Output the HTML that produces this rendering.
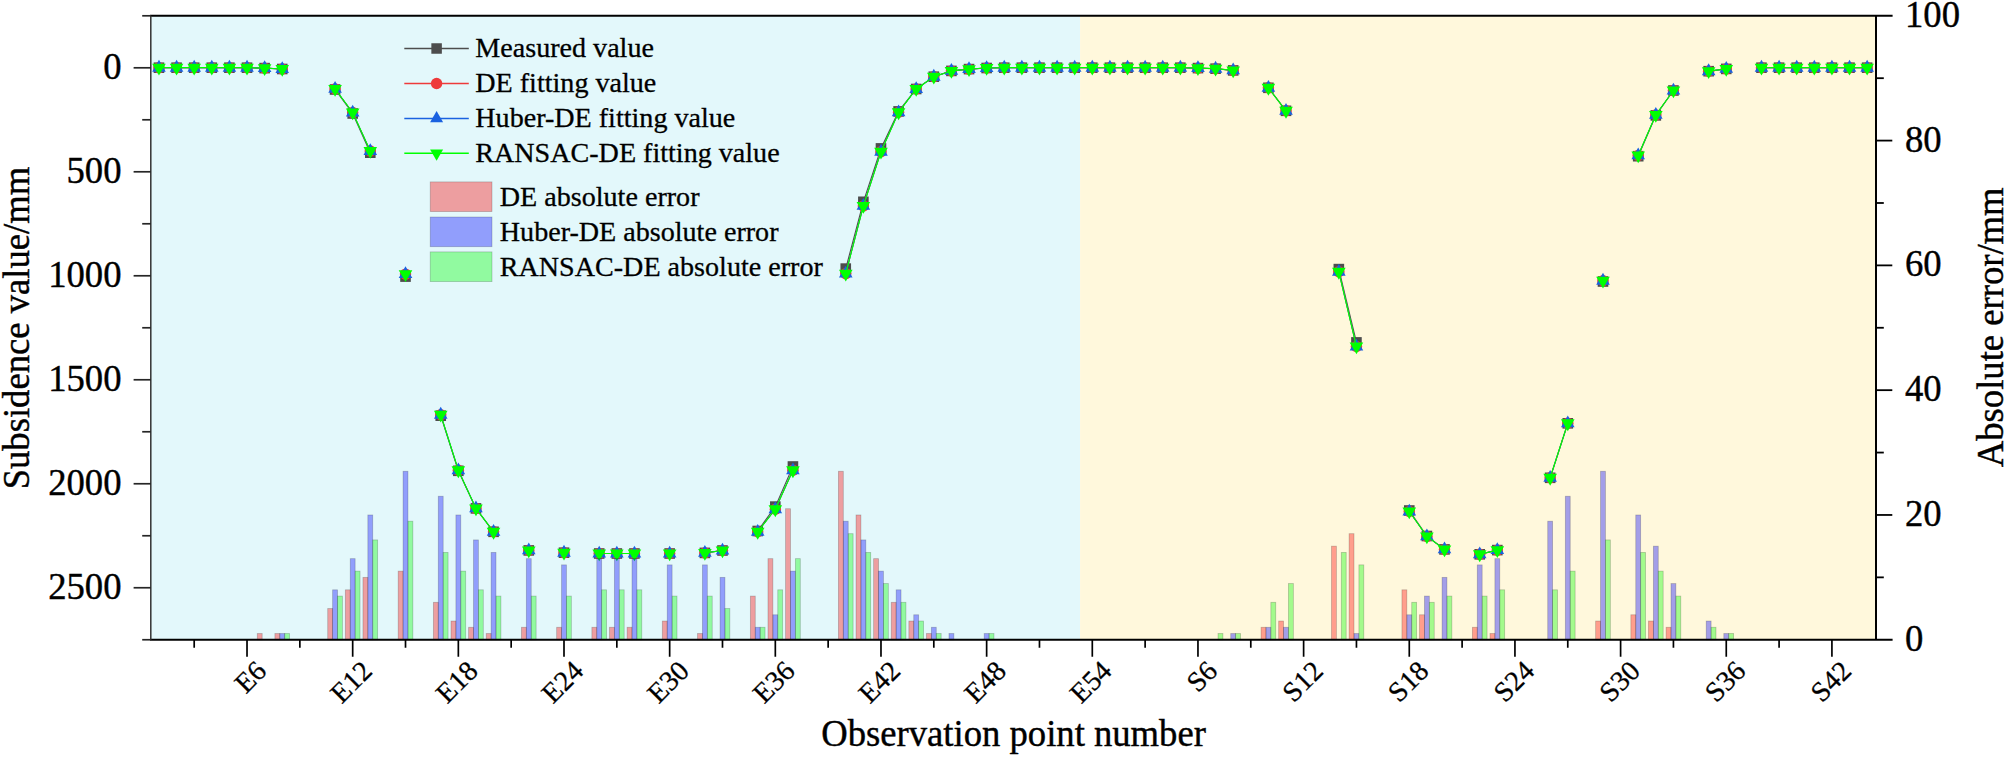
<!DOCTYPE html>
<html><head><meta charset="utf-8"><title>Subsidence fitting chart</title>
<style>html,body{margin:0;padding:0;background:#fff}svg{display:block}</style></head>
<body>
<svg width="2006" height="758" viewBox="0 0 2006 758" font-family="Liberation Serif, Times New Roman, serif">
<rect width="2006" height="758" fill="#fff"/>
<rect x="150.8" y="15.8" width="929.3" height="624.0" fill="#e3f8fb"/>
<rect x="1080.1" y="15.8" width="795.9" height="624.0" fill="#fff8dc"/>
<polyline points="158.97,67.70 176.58,67.70 194.19,67.70 211.80,67.70 229.41,67.70 247.02,67.70 264.63,68.10 282.24,69.00" fill="none" stroke="#4d4d4d" stroke-width="1.1"/>
<polyline points="335.07,89.50 352.68,113.50 370.29,152.70" fill="none" stroke="#4d4d4d" stroke-width="1.1"/>
<polyline points="440.73,415.70 458.34,470.80 475.95,508.40 493.56,531.80" fill="none" stroke="#4d4d4d" stroke-width="1.1"/>
<polyline points="599.22,553.50 616.83,553.50 634.44,553.50" fill="none" stroke="#4d4d4d" stroke-width="1.1"/>
<polyline points="704.88,552.90 722.49,550.50" fill="none" stroke="#4d4d4d" stroke-width="1.1"/>
<polyline points="757.71,531.00 775.32,506.60 792.93,466.50" fill="none" stroke="#4d4d4d" stroke-width="1.1"/>
<polyline points="845.76,268.60 863.37,201.80 880.98,148.40 898.59,111.40 916.20,89.00 933.81,76.70 951.42,70.90 969.03,69.10 986.64,68.00 1004.25,67.70 1021.86,67.70 1039.47,67.70 1057.08,67.70 1074.69,67.70 1092.30,67.70 1109.91,67.70 1127.52,67.70 1145.13,67.70 1162.74,67.70 1180.35,67.70 1197.96,68.10 1215.57,68.70 1233.18,70.40" fill="none" stroke="#4d4d4d" stroke-width="1.1"/>
<polyline points="1268.40,87.80 1286.01,110.80" fill="none" stroke="#4d4d4d" stroke-width="1.1"/>
<polyline points="1338.84,269.10 1356.45,342.40" fill="none" stroke="#4d4d4d" stroke-width="1.1"/>
<polyline points="1409.28,510.50 1426.89,536.00 1444.50,549.40" fill="none" stroke="#4d4d4d" stroke-width="1.1"/>
<polyline points="1479.72,554.30 1497.33,550.10" fill="none" stroke="#4d4d4d" stroke-width="1.1"/>
<polyline points="1550.16,477.80 1567.77,423.30" fill="none" stroke="#4d4d4d" stroke-width="1.1"/>
<polyline points="1638.21,156.20 1655.82,115.40 1673.43,90.50" fill="none" stroke="#4d4d4d" stroke-width="1.1"/>
<polyline points="1708.65,71.20 1726.26,68.90" fill="none" stroke="#4d4d4d" stroke-width="1.1"/>
<polyline points="1761.48,67.70 1779.09,67.70 1796.70,67.70 1814.31,67.70 1831.92,67.70 1849.53,67.70 1867.14,67.70" fill="none" stroke="#4d4d4d" stroke-width="1.1"/>
<rect x="153.67" y="62.40" width="10.6" height="10.6" fill="#4d4d4d"/>
<rect x="171.28" y="62.40" width="10.6" height="10.6" fill="#4d4d4d"/>
<rect x="188.89" y="62.40" width="10.6" height="10.6" fill="#4d4d4d"/>
<rect x="206.50" y="62.40" width="10.6" height="10.6" fill="#4d4d4d"/>
<rect x="224.11" y="62.40" width="10.6" height="10.6" fill="#4d4d4d"/>
<rect x="241.72" y="62.40" width="10.6" height="10.6" fill="#4d4d4d"/>
<rect x="259.33" y="62.80" width="10.6" height="10.6" fill="#4d4d4d"/>
<rect x="276.94" y="63.70" width="10.6" height="10.6" fill="#4d4d4d"/>
<rect x="329.77" y="84.20" width="10.6" height="10.6" fill="#4d4d4d"/>
<rect x="347.38" y="108.20" width="10.6" height="10.6" fill="#4d4d4d"/>
<rect x="364.99" y="147.40" width="10.6" height="10.6" fill="#4d4d4d"/>
<rect x="400.21" y="271.30" width="10.6" height="10.6" fill="#4d4d4d"/>
<rect x="435.43" y="410.40" width="10.6" height="10.6" fill="#4d4d4d"/>
<rect x="453.04" y="465.50" width="10.6" height="10.6" fill="#4d4d4d"/>
<rect x="470.65" y="503.10" width="10.6" height="10.6" fill="#4d4d4d"/>
<rect x="488.26" y="526.50" width="10.6" height="10.6" fill="#4d4d4d"/>
<rect x="523.48" y="545.10" width="10.6" height="10.6" fill="#4d4d4d"/>
<rect x="558.70" y="547.40" width="10.6" height="10.6" fill="#4d4d4d"/>
<rect x="593.92" y="548.20" width="10.6" height="10.6" fill="#4d4d4d"/>
<rect x="611.53" y="548.20" width="10.6" height="10.6" fill="#4d4d4d"/>
<rect x="629.14" y="548.20" width="10.6" height="10.6" fill="#4d4d4d"/>
<rect x="664.36" y="548.20" width="10.6" height="10.6" fill="#4d4d4d"/>
<rect x="699.58" y="547.60" width="10.6" height="10.6" fill="#4d4d4d"/>
<rect x="717.19" y="545.20" width="10.6" height="10.6" fill="#4d4d4d"/>
<rect x="752.41" y="525.70" width="10.6" height="10.6" fill="#4d4d4d"/>
<rect x="770.02" y="501.30" width="10.6" height="10.6" fill="#4d4d4d"/>
<rect x="787.63" y="461.20" width="10.6" height="10.6" fill="#4d4d4d"/>
<rect x="840.46" y="263.30" width="10.6" height="10.6" fill="#4d4d4d"/>
<rect x="858.07" y="196.50" width="10.6" height="10.6" fill="#4d4d4d"/>
<rect x="875.68" y="143.10" width="10.6" height="10.6" fill="#4d4d4d"/>
<rect x="893.29" y="106.10" width="10.6" height="10.6" fill="#4d4d4d"/>
<rect x="910.90" y="83.70" width="10.6" height="10.6" fill="#4d4d4d"/>
<rect x="928.51" y="71.40" width="10.6" height="10.6" fill="#4d4d4d"/>
<rect x="946.12" y="65.60" width="10.6" height="10.6" fill="#4d4d4d"/>
<rect x="963.73" y="63.80" width="10.6" height="10.6" fill="#4d4d4d"/>
<rect x="981.34" y="62.70" width="10.6" height="10.6" fill="#4d4d4d"/>
<rect x="998.95" y="62.40" width="10.6" height="10.6" fill="#4d4d4d"/>
<rect x="1016.56" y="62.40" width="10.6" height="10.6" fill="#4d4d4d"/>
<rect x="1034.17" y="62.40" width="10.6" height="10.6" fill="#4d4d4d"/>
<rect x="1051.78" y="62.40" width="10.6" height="10.6" fill="#4d4d4d"/>
<rect x="1069.39" y="62.40" width="10.6" height="10.6" fill="#4d4d4d"/>
<rect x="1087.00" y="62.40" width="10.6" height="10.6" fill="#4d4d4d"/>
<rect x="1104.61" y="62.40" width="10.6" height="10.6" fill="#4d4d4d"/>
<rect x="1122.22" y="62.40" width="10.6" height="10.6" fill="#4d4d4d"/>
<rect x="1139.83" y="62.40" width="10.6" height="10.6" fill="#4d4d4d"/>
<rect x="1157.44" y="62.40" width="10.6" height="10.6" fill="#4d4d4d"/>
<rect x="1175.05" y="62.40" width="10.6" height="10.6" fill="#4d4d4d"/>
<rect x="1192.66" y="62.80" width="10.6" height="10.6" fill="#4d4d4d"/>
<rect x="1210.27" y="63.40" width="10.6" height="10.6" fill="#4d4d4d"/>
<rect x="1227.88" y="65.10" width="10.6" height="10.6" fill="#4d4d4d"/>
<rect x="1263.10" y="82.50" width="10.6" height="10.6" fill="#4d4d4d"/>
<rect x="1280.71" y="105.50" width="10.6" height="10.6" fill="#4d4d4d"/>
<rect x="1333.54" y="263.80" width="10.6" height="10.6" fill="#4d4d4d"/>
<rect x="1351.15" y="337.10" width="10.6" height="10.6" fill="#4d4d4d"/>
<rect x="1403.98" y="505.20" width="10.6" height="10.6" fill="#4d4d4d"/>
<rect x="1421.59" y="530.70" width="10.6" height="10.6" fill="#4d4d4d"/>
<rect x="1439.20" y="544.10" width="10.6" height="10.6" fill="#4d4d4d"/>
<rect x="1474.42" y="549.00" width="10.6" height="10.6" fill="#4d4d4d"/>
<rect x="1492.03" y="544.80" width="10.6" height="10.6" fill="#4d4d4d"/>
<rect x="1544.86" y="472.50" width="10.6" height="10.6" fill="#4d4d4d"/>
<rect x="1562.47" y="418.00" width="10.6" height="10.6" fill="#4d4d4d"/>
<rect x="1597.69" y="276.20" width="10.6" height="10.6" fill="#4d4d4d"/>
<rect x="1632.91" y="150.90" width="10.6" height="10.6" fill="#4d4d4d"/>
<rect x="1650.52" y="110.10" width="10.6" height="10.6" fill="#4d4d4d"/>
<rect x="1668.13" y="85.20" width="10.6" height="10.6" fill="#4d4d4d"/>
<rect x="1703.35" y="65.90" width="10.6" height="10.6" fill="#4d4d4d"/>
<rect x="1720.96" y="63.60" width="10.6" height="10.6" fill="#4d4d4d"/>
<rect x="1756.18" y="62.40" width="10.6" height="10.6" fill="#4d4d4d"/>
<rect x="1773.79" y="62.40" width="10.6" height="10.6" fill="#4d4d4d"/>
<rect x="1791.40" y="62.40" width="10.6" height="10.6" fill="#4d4d4d"/>
<rect x="1809.01" y="62.40" width="10.6" height="10.6" fill="#4d4d4d"/>
<rect x="1826.62" y="62.40" width="10.6" height="10.6" fill="#4d4d4d"/>
<rect x="1844.23" y="62.40" width="10.6" height="10.6" fill="#4d4d4d"/>
<rect x="1861.84" y="62.40" width="10.6" height="10.6" fill="#4d4d4d"/>
<polyline points="158.97,67.70 176.58,67.70 194.19,67.70 211.80,67.70 229.41,67.70 247.02,67.70 264.63,68.10 282.24,69.00" fill="none" stroke="#ee3a3a" stroke-width="0.9"/>
<polyline points="335.07,88.90 352.68,112.50 370.29,151.00" fill="none" stroke="#ee3a3a" stroke-width="0.9"/>
<polyline points="440.73,414.70 458.34,470.30 475.95,508.40 493.56,531.80" fill="none" stroke="#ee3a3a" stroke-width="0.9"/>
<polyline points="599.22,553.50 616.83,553.50 634.44,553.50" fill="none" stroke="#ee3a3a" stroke-width="0.9"/>
<polyline points="704.88,552.90 722.49,550.50" fill="none" stroke="#ee3a3a" stroke-width="0.9"/>
<polyline points="757.71,531.80 775.32,509.30 792.93,470.30" fill="none" stroke="#ee3a3a" stroke-width="0.9"/>
<polyline points="845.76,273.60 863.37,205.90 880.98,151.70 898.59,112.30 916.20,89.00 933.81,76.70 951.42,70.90 969.03,69.10 986.64,68.00 1004.25,67.70 1021.86,67.70 1039.47,67.70 1057.08,67.70 1074.69,67.70 1092.30,67.70 1109.91,67.70 1127.52,67.70 1145.13,67.70 1162.74,67.70 1180.35,67.70 1197.96,68.10 1215.57,68.70 1233.18,70.40" fill="none" stroke="#ee3a3a" stroke-width="0.9"/>
<polyline points="1268.40,87.80 1286.01,110.80" fill="none" stroke="#ee3a3a" stroke-width="0.9"/>
<polyline points="1338.84,271.80 1356.45,346.50" fill="none" stroke="#ee3a3a" stroke-width="0.9"/>
<polyline points="1409.28,511.50 1426.89,536.40 1444.50,549.40" fill="none" stroke="#ee3a3a" stroke-width="0.9"/>
<polyline points="1479.72,554.30 1497.33,550.10" fill="none" stroke="#ee3a3a" stroke-width="0.9"/>
<polyline points="1550.16,477.80 1567.77,423.30" fill="none" stroke="#ee3a3a" stroke-width="0.9"/>
<polyline points="1638.21,155.40 1655.82,114.90 1673.43,90.50" fill="none" stroke="#ee3a3a" stroke-width="0.9"/>
<polyline points="1708.65,71.20 1726.26,68.90" fill="none" stroke="#ee3a3a" stroke-width="0.9"/>
<polyline points="1761.48,67.70 1779.09,67.70 1796.70,67.70 1814.31,67.70 1831.92,67.70 1849.53,67.70 1867.14,67.70" fill="none" stroke="#ee3a3a" stroke-width="0.9"/>
<circle cx="158.97" cy="67.70" r="5.7" fill="#ee3a3a"/>
<circle cx="176.58" cy="67.70" r="5.7" fill="#ee3a3a"/>
<circle cx="194.19" cy="67.70" r="5.7" fill="#ee3a3a"/>
<circle cx="211.80" cy="67.70" r="5.7" fill="#ee3a3a"/>
<circle cx="229.41" cy="67.70" r="5.7" fill="#ee3a3a"/>
<circle cx="247.02" cy="67.70" r="5.7" fill="#ee3a3a"/>
<circle cx="264.63" cy="68.10" r="5.7" fill="#ee3a3a"/>
<circle cx="282.24" cy="69.00" r="5.7" fill="#ee3a3a"/>
<circle cx="335.07" cy="88.90" r="5.7" fill="#ee3a3a"/>
<circle cx="352.68" cy="112.50" r="5.7" fill="#ee3a3a"/>
<circle cx="370.29" cy="151.00" r="5.7" fill="#ee3a3a"/>
<circle cx="405.51" cy="274.10" r="5.7" fill="#ee3a3a"/>
<circle cx="440.73" cy="414.70" r="5.7" fill="#ee3a3a"/>
<circle cx="458.34" cy="470.30" r="5.7" fill="#ee3a3a"/>
<circle cx="475.95" cy="508.40" r="5.7" fill="#ee3a3a"/>
<circle cx="493.56" cy="531.80" r="5.7" fill="#ee3a3a"/>
<circle cx="528.78" cy="550.40" r="5.7" fill="#ee3a3a"/>
<circle cx="564.00" cy="552.70" r="5.7" fill="#ee3a3a"/>
<circle cx="599.22" cy="553.50" r="5.7" fill="#ee3a3a"/>
<circle cx="616.83" cy="553.50" r="5.7" fill="#ee3a3a"/>
<circle cx="634.44" cy="553.50" r="5.7" fill="#ee3a3a"/>
<circle cx="669.66" cy="553.50" r="5.7" fill="#ee3a3a"/>
<circle cx="704.88" cy="552.90" r="5.7" fill="#ee3a3a"/>
<circle cx="722.49" cy="550.50" r="5.7" fill="#ee3a3a"/>
<circle cx="757.71" cy="531.80" r="5.7" fill="#ee3a3a"/>
<circle cx="775.32" cy="509.30" r="5.7" fill="#ee3a3a"/>
<circle cx="792.93" cy="470.30" r="5.7" fill="#ee3a3a"/>
<circle cx="845.76" cy="273.60" r="5.7" fill="#ee3a3a"/>
<circle cx="863.37" cy="205.90" r="5.7" fill="#ee3a3a"/>
<circle cx="880.98" cy="151.70" r="5.7" fill="#ee3a3a"/>
<circle cx="898.59" cy="112.30" r="5.7" fill="#ee3a3a"/>
<circle cx="916.20" cy="89.00" r="5.7" fill="#ee3a3a"/>
<circle cx="933.81" cy="76.70" r="5.7" fill="#ee3a3a"/>
<circle cx="951.42" cy="70.90" r="5.7" fill="#ee3a3a"/>
<circle cx="969.03" cy="69.10" r="5.7" fill="#ee3a3a"/>
<circle cx="986.64" cy="68.00" r="5.7" fill="#ee3a3a"/>
<circle cx="1004.25" cy="67.70" r="5.7" fill="#ee3a3a"/>
<circle cx="1021.86" cy="67.70" r="5.7" fill="#ee3a3a"/>
<circle cx="1039.47" cy="67.70" r="5.7" fill="#ee3a3a"/>
<circle cx="1057.08" cy="67.70" r="5.7" fill="#ee3a3a"/>
<circle cx="1074.69" cy="67.70" r="5.7" fill="#ee3a3a"/>
<circle cx="1092.30" cy="67.70" r="5.7" fill="#ee3a3a"/>
<circle cx="1109.91" cy="67.70" r="5.7" fill="#ee3a3a"/>
<circle cx="1127.52" cy="67.70" r="5.7" fill="#ee3a3a"/>
<circle cx="1145.13" cy="67.70" r="5.7" fill="#ee3a3a"/>
<circle cx="1162.74" cy="67.70" r="5.7" fill="#ee3a3a"/>
<circle cx="1180.35" cy="67.70" r="5.7" fill="#ee3a3a"/>
<circle cx="1197.96" cy="68.10" r="5.7" fill="#ee3a3a"/>
<circle cx="1215.57" cy="68.70" r="5.7" fill="#ee3a3a"/>
<circle cx="1233.18" cy="70.40" r="5.7" fill="#ee3a3a"/>
<circle cx="1268.40" cy="87.80" r="5.7" fill="#ee3a3a"/>
<circle cx="1286.01" cy="110.80" r="5.7" fill="#ee3a3a"/>
<circle cx="1338.84" cy="271.80" r="5.7" fill="#ee3a3a"/>
<circle cx="1356.45" cy="346.50" r="5.7" fill="#ee3a3a"/>
<circle cx="1409.28" cy="511.50" r="5.7" fill="#ee3a3a"/>
<circle cx="1426.89" cy="536.40" r="5.7" fill="#ee3a3a"/>
<circle cx="1444.50" cy="549.40" r="5.7" fill="#ee3a3a"/>
<circle cx="1479.72" cy="554.30" r="5.7" fill="#ee3a3a"/>
<circle cx="1497.33" cy="550.10" r="5.7" fill="#ee3a3a"/>
<circle cx="1550.16" cy="477.80" r="5.7" fill="#ee3a3a"/>
<circle cx="1567.77" cy="423.30" r="5.7" fill="#ee3a3a"/>
<circle cx="1602.99" cy="280.70" r="5.7" fill="#ee3a3a"/>
<circle cx="1638.21" cy="155.40" r="5.7" fill="#ee3a3a"/>
<circle cx="1655.82" cy="114.90" r="5.7" fill="#ee3a3a"/>
<circle cx="1673.43" cy="90.50" r="5.7" fill="#ee3a3a"/>
<circle cx="1708.65" cy="71.20" r="5.7" fill="#ee3a3a"/>
<circle cx="1726.26" cy="68.90" r="5.7" fill="#ee3a3a"/>
<circle cx="1761.48" cy="67.70" r="5.7" fill="#ee3a3a"/>
<circle cx="1779.09" cy="67.70" r="5.7" fill="#ee3a3a"/>
<circle cx="1796.70" cy="67.70" r="5.7" fill="#ee3a3a"/>
<circle cx="1814.31" cy="67.70" r="5.7" fill="#ee3a3a"/>
<circle cx="1831.92" cy="67.70" r="5.7" fill="#ee3a3a"/>
<circle cx="1849.53" cy="67.70" r="5.7" fill="#ee3a3a"/>
<circle cx="1867.14" cy="67.70" r="5.7" fill="#ee3a3a"/>
<polyline points="158.97,67.70 176.58,67.70 194.19,67.70 211.80,67.70 229.41,67.70 247.02,67.70 264.63,68.10 282.24,69.00" fill="none" stroke="#1a62e0" stroke-width="0.9"/>
<polyline points="335.07,88.90 352.68,112.50 370.29,151.00" fill="none" stroke="#1a62e0" stroke-width="0.9"/>
<polyline points="440.73,414.70 458.34,470.30 475.95,508.40 493.56,531.80" fill="none" stroke="#1a62e0" stroke-width="0.9"/>
<polyline points="599.22,553.50 616.83,553.50 634.44,553.50" fill="none" stroke="#1a62e0" stroke-width="0.9"/>
<polyline points="704.88,552.90 722.49,550.50" fill="none" stroke="#1a62e0" stroke-width="0.9"/>
<polyline points="757.71,531.80 775.32,509.30 792.93,470.30" fill="none" stroke="#1a62e0" stroke-width="0.9"/>
<polyline points="845.76,273.60 863.37,205.90 880.98,151.70 898.59,112.30 916.20,89.00 933.81,76.70 951.42,70.90 969.03,69.10 986.64,68.00 1004.25,67.70 1021.86,67.70 1039.47,67.70 1057.08,67.70 1074.69,67.70 1092.30,67.70 1109.91,67.70 1127.52,67.70 1145.13,67.70 1162.74,67.70 1180.35,67.70 1197.96,68.10 1215.57,68.70 1233.18,70.40" fill="none" stroke="#1a62e0" stroke-width="0.9"/>
<polyline points="1268.40,87.80 1286.01,110.80" fill="none" stroke="#1a62e0" stroke-width="0.9"/>
<polyline points="1338.84,271.80 1356.45,346.50" fill="none" stroke="#1a62e0" stroke-width="0.9"/>
<polyline points="1409.28,511.50 1426.89,536.40 1444.50,549.40" fill="none" stroke="#1a62e0" stroke-width="0.9"/>
<polyline points="1479.72,554.30 1497.33,550.10" fill="none" stroke="#1a62e0" stroke-width="0.9"/>
<polyline points="1550.16,477.80 1567.77,423.30" fill="none" stroke="#1a62e0" stroke-width="0.9"/>
<polyline points="1638.21,155.40 1655.82,114.90 1673.43,90.50" fill="none" stroke="#1a62e0" stroke-width="0.9"/>
<polyline points="1708.65,71.20 1726.26,68.90" fill="none" stroke="#1a62e0" stroke-width="0.9"/>
<polyline points="1761.48,67.70 1779.09,67.70 1796.70,67.70 1814.31,67.70 1831.92,67.70 1849.53,67.70 1867.14,67.70" fill="none" stroke="#1a62e0" stroke-width="0.9"/>
<path d="M152.17 71.63L165.77 71.63L158.97 59.83Z" fill="#1a62e0"/>
<path d="M169.78 71.63L183.38 71.63L176.58 59.83Z" fill="#1a62e0"/>
<path d="M187.39 71.63L200.99 71.63L194.19 59.83Z" fill="#1a62e0"/>
<path d="M205.00 71.63L218.60 71.63L211.80 59.83Z" fill="#1a62e0"/>
<path d="M222.61 71.63L236.21 71.63L229.41 59.83Z" fill="#1a62e0"/>
<path d="M240.22 71.63L253.82 71.63L247.02 59.83Z" fill="#1a62e0"/>
<path d="M257.83 72.03L271.43 72.03L264.63 60.23Z" fill="#1a62e0"/>
<path d="M275.44 72.93L289.04 72.93L282.24 61.13Z" fill="#1a62e0"/>
<path d="M328.27 92.83L341.87 92.83L335.07 81.03Z" fill="#1a62e0"/>
<path d="M345.88 116.43L359.48 116.43L352.68 104.63Z" fill="#1a62e0"/>
<path d="M363.49 154.93L377.09 154.93L370.29 143.13Z" fill="#1a62e0"/>
<path d="M398.71 278.03L412.31 278.03L405.51 266.23Z" fill="#1a62e0"/>
<path d="M433.93 418.63L447.53 418.63L440.73 406.83Z" fill="#1a62e0"/>
<path d="M451.54 474.23L465.14 474.23L458.34 462.43Z" fill="#1a62e0"/>
<path d="M469.15 512.33L482.75 512.33L475.95 500.53Z" fill="#1a62e0"/>
<path d="M486.76 535.73L500.36 535.73L493.56 523.93Z" fill="#1a62e0"/>
<path d="M521.98 554.33L535.58 554.33L528.78 542.53Z" fill="#1a62e0"/>
<path d="M557.20 556.63L570.80 556.63L564.00 544.83Z" fill="#1a62e0"/>
<path d="M592.42 557.43L606.02 557.43L599.22 545.63Z" fill="#1a62e0"/>
<path d="M610.03 557.43L623.63 557.43L616.83 545.63Z" fill="#1a62e0"/>
<path d="M627.64 557.43L641.24 557.43L634.44 545.63Z" fill="#1a62e0"/>
<path d="M662.86 557.43L676.46 557.43L669.66 545.63Z" fill="#1a62e0"/>
<path d="M698.08 556.83L711.68 556.83L704.88 545.03Z" fill="#1a62e0"/>
<path d="M715.69 554.43L729.29 554.43L722.49 542.63Z" fill="#1a62e0"/>
<path d="M750.91 535.73L764.51 535.73L757.71 523.93Z" fill="#1a62e0"/>
<path d="M768.52 513.23L782.12 513.23L775.32 501.43Z" fill="#1a62e0"/>
<path d="M786.13 474.23L799.73 474.23L792.93 462.43Z" fill="#1a62e0"/>
<path d="M838.96 277.53L852.56 277.53L845.76 265.73Z" fill="#1a62e0"/>
<path d="M856.57 209.83L870.17 209.83L863.37 198.03Z" fill="#1a62e0"/>
<path d="M874.18 155.63L887.78 155.63L880.98 143.83Z" fill="#1a62e0"/>
<path d="M891.79 116.23L905.39 116.23L898.59 104.43Z" fill="#1a62e0"/>
<path d="M909.40 92.93L923.00 92.93L916.20 81.13Z" fill="#1a62e0"/>
<path d="M927.01 80.63L940.61 80.63L933.81 68.83Z" fill="#1a62e0"/>
<path d="M944.62 74.83L958.22 74.83L951.42 63.03Z" fill="#1a62e0"/>
<path d="M962.23 73.03L975.83 73.03L969.03 61.23Z" fill="#1a62e0"/>
<path d="M979.84 71.93L993.44 71.93L986.64 60.13Z" fill="#1a62e0"/>
<path d="M997.45 71.63L1011.05 71.63L1004.25 59.83Z" fill="#1a62e0"/>
<path d="M1015.06 71.63L1028.66 71.63L1021.86 59.83Z" fill="#1a62e0"/>
<path d="M1032.67 71.63L1046.27 71.63L1039.47 59.83Z" fill="#1a62e0"/>
<path d="M1050.28 71.63L1063.88 71.63L1057.08 59.83Z" fill="#1a62e0"/>
<path d="M1067.89 71.63L1081.49 71.63L1074.69 59.83Z" fill="#1a62e0"/>
<path d="M1085.50 71.63L1099.10 71.63L1092.30 59.83Z" fill="#1a62e0"/>
<path d="M1103.11 71.63L1116.71 71.63L1109.91 59.83Z" fill="#1a62e0"/>
<path d="M1120.72 71.63L1134.32 71.63L1127.52 59.83Z" fill="#1a62e0"/>
<path d="M1138.33 71.63L1151.93 71.63L1145.13 59.83Z" fill="#1a62e0"/>
<path d="M1155.94 71.63L1169.54 71.63L1162.74 59.83Z" fill="#1a62e0"/>
<path d="M1173.55 71.63L1187.15 71.63L1180.35 59.83Z" fill="#1a62e0"/>
<path d="M1191.16 72.03L1204.76 72.03L1197.96 60.23Z" fill="#1a62e0"/>
<path d="M1208.77 72.63L1222.37 72.63L1215.57 60.83Z" fill="#1a62e0"/>
<path d="M1226.38 74.33L1239.98 74.33L1233.18 62.53Z" fill="#1a62e0"/>
<path d="M1261.60 91.73L1275.20 91.73L1268.40 79.93Z" fill="#1a62e0"/>
<path d="M1279.21 114.73L1292.81 114.73L1286.01 102.93Z" fill="#1a62e0"/>
<path d="M1332.04 275.73L1345.64 275.73L1338.84 263.93Z" fill="#1a62e0"/>
<path d="M1349.65 350.43L1363.25 350.43L1356.45 338.63Z" fill="#1a62e0"/>
<path d="M1402.48 515.43L1416.08 515.43L1409.28 503.63Z" fill="#1a62e0"/>
<path d="M1420.09 540.33L1433.69 540.33L1426.89 528.53Z" fill="#1a62e0"/>
<path d="M1437.70 553.33L1451.30 553.33L1444.50 541.53Z" fill="#1a62e0"/>
<path d="M1472.92 558.23L1486.52 558.23L1479.72 546.43Z" fill="#1a62e0"/>
<path d="M1490.53 554.03L1504.13 554.03L1497.33 542.23Z" fill="#1a62e0"/>
<path d="M1543.36 481.73L1556.96 481.73L1550.16 469.93Z" fill="#1a62e0"/>
<path d="M1560.97 427.23L1574.57 427.23L1567.77 415.43Z" fill="#1a62e0"/>
<path d="M1596.19 284.63L1609.79 284.63L1602.99 272.83Z" fill="#1a62e0"/>
<path d="M1631.41 159.33L1645.01 159.33L1638.21 147.53Z" fill="#1a62e0"/>
<path d="M1649.02 118.83L1662.62 118.83L1655.82 107.03Z" fill="#1a62e0"/>
<path d="M1666.63 94.43L1680.23 94.43L1673.43 82.63Z" fill="#1a62e0"/>
<path d="M1701.85 75.13L1715.45 75.13L1708.65 63.33Z" fill="#1a62e0"/>
<path d="M1719.46 72.83L1733.06 72.83L1726.26 61.03Z" fill="#1a62e0"/>
<path d="M1754.68 71.63L1768.28 71.63L1761.48 59.83Z" fill="#1a62e0"/>
<path d="M1772.29 71.63L1785.89 71.63L1779.09 59.83Z" fill="#1a62e0"/>
<path d="M1789.90 71.63L1803.50 71.63L1796.70 59.83Z" fill="#1a62e0"/>
<path d="M1807.51 71.63L1821.11 71.63L1814.31 59.83Z" fill="#1a62e0"/>
<path d="M1825.12 71.63L1838.72 71.63L1831.92 59.83Z" fill="#1a62e0"/>
<path d="M1842.73 71.63L1856.33 71.63L1849.53 59.83Z" fill="#1a62e0"/>
<path d="M1860.34 71.63L1873.94 71.63L1867.14 59.83Z" fill="#1a62e0"/>
<polyline points="158.97,67.70 176.58,67.70 194.19,67.70 211.80,67.70 229.41,67.70 247.02,67.70 264.63,68.10 282.24,69.00" fill="none" stroke="#00ff00" stroke-width="1.2"/>
<polyline points="335.07,88.90 352.68,112.50 370.29,151.00" fill="none" stroke="#00ff00" stroke-width="1.2"/>
<polyline points="440.73,414.70 458.34,470.30 475.95,508.40 493.56,531.80" fill="none" stroke="#00ff00" stroke-width="1.2"/>
<polyline points="599.22,553.50 616.83,553.50 634.44,553.50" fill="none" stroke="#00ff00" stroke-width="1.2"/>
<polyline points="704.88,552.90 722.49,550.50" fill="none" stroke="#00ff00" stroke-width="1.2"/>
<polyline points="757.71,531.80 775.32,509.30 792.93,470.30" fill="none" stroke="#00ff00" stroke-width="1.2"/>
<polyline points="845.76,273.60 863.37,205.90 880.98,151.70 898.59,112.30 916.20,89.00 933.81,76.70 951.42,70.90 969.03,69.10 986.64,68.00 1004.25,67.70 1021.86,67.70 1039.47,67.70 1057.08,67.70 1074.69,67.70 1092.30,67.70 1109.91,67.70 1127.52,67.70 1145.13,67.70 1162.74,67.70 1180.35,67.70 1197.96,68.10 1215.57,68.70 1233.18,70.40" fill="none" stroke="#00ff00" stroke-width="1.2"/>
<polyline points="1268.40,87.80 1286.01,110.80" fill="none" stroke="#00ff00" stroke-width="1.2"/>
<polyline points="1338.84,271.80 1356.45,346.50" fill="none" stroke="#00ff00" stroke-width="1.2"/>
<polyline points="1409.28,511.50 1426.89,536.40 1444.50,549.40" fill="none" stroke="#00ff00" stroke-width="1.2"/>
<polyline points="1479.72,554.30 1497.33,550.10" fill="none" stroke="#00ff00" stroke-width="1.2"/>
<polyline points="1550.16,477.80 1567.77,423.30" fill="none" stroke="#00ff00" stroke-width="1.2"/>
<polyline points="1638.21,155.40 1655.82,114.90 1673.43,90.50" fill="none" stroke="#00ff00" stroke-width="1.2"/>
<polyline points="1708.65,71.20 1726.26,68.90" fill="none" stroke="#00ff00" stroke-width="1.2"/>
<polyline points="1761.48,67.70 1779.09,67.70 1796.70,67.70 1814.31,67.70 1831.92,67.70 1849.53,67.70 1867.14,67.70" fill="none" stroke="#00ff00" stroke-width="1.2"/>
<path d="M152.17 63.77L165.77 63.77L158.97 75.57Z" fill="#00ff00"/>
<path d="M169.78 63.77L183.38 63.77L176.58 75.57Z" fill="#00ff00"/>
<path d="M187.39 63.77L200.99 63.77L194.19 75.57Z" fill="#00ff00"/>
<path d="M205.00 63.77L218.60 63.77L211.80 75.57Z" fill="#00ff00"/>
<path d="M222.61 63.77L236.21 63.77L229.41 75.57Z" fill="#00ff00"/>
<path d="M240.22 63.77L253.82 63.77L247.02 75.57Z" fill="#00ff00"/>
<path d="M257.83 64.17L271.43 64.17L264.63 75.97Z" fill="#00ff00"/>
<path d="M275.44 65.07L289.04 65.07L282.24 76.87Z" fill="#00ff00"/>
<path d="M328.27 84.97L341.87 84.97L335.07 96.77Z" fill="#00ff00"/>
<path d="M345.88 108.57L359.48 108.57L352.68 120.37Z" fill="#00ff00"/>
<path d="M363.49 147.07L377.09 147.07L370.29 158.87Z" fill="#00ff00"/>
<path d="M398.71 270.17L412.31 270.17L405.51 281.97Z" fill="#00ff00"/>
<path d="M433.93 410.77L447.53 410.77L440.73 422.57Z" fill="#00ff00"/>
<path d="M451.54 466.37L465.14 466.37L458.34 478.17Z" fill="#00ff00"/>
<path d="M469.15 504.47L482.75 504.47L475.95 516.27Z" fill="#00ff00"/>
<path d="M486.76 527.87L500.36 527.87L493.56 539.67Z" fill="#00ff00"/>
<path d="M521.98 546.47L535.58 546.47L528.78 558.27Z" fill="#00ff00"/>
<path d="M557.20 548.77L570.80 548.77L564.00 560.57Z" fill="#00ff00"/>
<path d="M592.42 549.57L606.02 549.57L599.22 561.37Z" fill="#00ff00"/>
<path d="M610.03 549.57L623.63 549.57L616.83 561.37Z" fill="#00ff00"/>
<path d="M627.64 549.57L641.24 549.57L634.44 561.37Z" fill="#00ff00"/>
<path d="M662.86 549.57L676.46 549.57L669.66 561.37Z" fill="#00ff00"/>
<path d="M698.08 548.97L711.68 548.97L704.88 560.77Z" fill="#00ff00"/>
<path d="M715.69 546.57L729.29 546.57L722.49 558.37Z" fill="#00ff00"/>
<path d="M750.91 527.87L764.51 527.87L757.71 539.67Z" fill="#00ff00"/>
<path d="M768.52 505.37L782.12 505.37L775.32 517.17Z" fill="#00ff00"/>
<path d="M786.13 466.37L799.73 466.37L792.93 478.17Z" fill="#00ff00"/>
<path d="M838.96 269.67L852.56 269.67L845.76 281.47Z" fill="#00ff00"/>
<path d="M856.57 201.97L870.17 201.97L863.37 213.77Z" fill="#00ff00"/>
<path d="M874.18 147.77L887.78 147.77L880.98 159.57Z" fill="#00ff00"/>
<path d="M891.79 108.37L905.39 108.37L898.59 120.17Z" fill="#00ff00"/>
<path d="M909.40 85.07L923.00 85.07L916.20 96.87Z" fill="#00ff00"/>
<path d="M927.01 72.77L940.61 72.77L933.81 84.57Z" fill="#00ff00"/>
<path d="M944.62 66.97L958.22 66.97L951.42 78.77Z" fill="#00ff00"/>
<path d="M962.23 65.17L975.83 65.17L969.03 76.97Z" fill="#00ff00"/>
<path d="M979.84 64.07L993.44 64.07L986.64 75.87Z" fill="#00ff00"/>
<path d="M997.45 63.77L1011.05 63.77L1004.25 75.57Z" fill="#00ff00"/>
<path d="M1015.06 63.77L1028.66 63.77L1021.86 75.57Z" fill="#00ff00"/>
<path d="M1032.67 63.77L1046.27 63.77L1039.47 75.57Z" fill="#00ff00"/>
<path d="M1050.28 63.77L1063.88 63.77L1057.08 75.57Z" fill="#00ff00"/>
<path d="M1067.89 63.77L1081.49 63.77L1074.69 75.57Z" fill="#00ff00"/>
<path d="M1085.50 63.77L1099.10 63.77L1092.30 75.57Z" fill="#00ff00"/>
<path d="M1103.11 63.77L1116.71 63.77L1109.91 75.57Z" fill="#00ff00"/>
<path d="M1120.72 63.77L1134.32 63.77L1127.52 75.57Z" fill="#00ff00"/>
<path d="M1138.33 63.77L1151.93 63.77L1145.13 75.57Z" fill="#00ff00"/>
<path d="M1155.94 63.77L1169.54 63.77L1162.74 75.57Z" fill="#00ff00"/>
<path d="M1173.55 63.77L1187.15 63.77L1180.35 75.57Z" fill="#00ff00"/>
<path d="M1191.16 64.17L1204.76 64.17L1197.96 75.97Z" fill="#00ff00"/>
<path d="M1208.77 64.77L1222.37 64.77L1215.57 76.57Z" fill="#00ff00"/>
<path d="M1226.38 66.47L1239.98 66.47L1233.18 78.27Z" fill="#00ff00"/>
<path d="M1261.60 83.87L1275.20 83.87L1268.40 95.67Z" fill="#00ff00"/>
<path d="M1279.21 106.87L1292.81 106.87L1286.01 118.67Z" fill="#00ff00"/>
<path d="M1332.04 267.87L1345.64 267.87L1338.84 279.67Z" fill="#00ff00"/>
<path d="M1349.65 342.57L1363.25 342.57L1356.45 354.37Z" fill="#00ff00"/>
<path d="M1402.48 507.57L1416.08 507.57L1409.28 519.37Z" fill="#00ff00"/>
<path d="M1420.09 532.47L1433.69 532.47L1426.89 544.27Z" fill="#00ff00"/>
<path d="M1437.70 545.47L1451.30 545.47L1444.50 557.27Z" fill="#00ff00"/>
<path d="M1472.92 550.37L1486.52 550.37L1479.72 562.17Z" fill="#00ff00"/>
<path d="M1490.53 546.17L1504.13 546.17L1497.33 557.97Z" fill="#00ff00"/>
<path d="M1543.36 473.87L1556.96 473.87L1550.16 485.67Z" fill="#00ff00"/>
<path d="M1560.97 419.37L1574.57 419.37L1567.77 431.17Z" fill="#00ff00"/>
<path d="M1596.19 276.77L1609.79 276.77L1602.99 288.57Z" fill="#00ff00"/>
<path d="M1631.41 151.47L1645.01 151.47L1638.21 163.27Z" fill="#00ff00"/>
<path d="M1649.02 110.97L1662.62 110.97L1655.82 122.77Z" fill="#00ff00"/>
<path d="M1666.63 86.57L1680.23 86.57L1673.43 98.37Z" fill="#00ff00"/>
<path d="M1701.85 67.27L1715.45 67.27L1708.65 79.07Z" fill="#00ff00"/>
<path d="M1719.46 64.97L1733.06 64.97L1726.26 76.77Z" fill="#00ff00"/>
<path d="M1754.68 63.77L1768.28 63.77L1761.48 75.57Z" fill="#00ff00"/>
<path d="M1772.29 63.77L1785.89 63.77L1779.09 75.57Z" fill="#00ff00"/>
<path d="M1789.90 63.77L1803.50 63.77L1796.70 75.57Z" fill="#00ff00"/>
<path d="M1807.51 63.77L1821.11 63.77L1814.31 75.57Z" fill="#00ff00"/>
<path d="M1825.12 63.77L1838.72 63.77L1831.92 75.57Z" fill="#00ff00"/>
<path d="M1842.73 63.77L1856.33 63.77L1849.53 75.57Z" fill="#00ff00"/>
<path d="M1860.34 63.77L1873.94 63.77L1867.14 75.57Z" fill="#00ff00"/>
<g stroke="#000" stroke-opacity="0.22" stroke-width="0.8">
<rect x="257.28" y="633.51" width="4.9" height="6.24" fill="rgb(255,0,0)" fill-opacity="0.36"/>
<rect x="274.89" y="633.51" width="4.9" height="6.24" fill="rgb(255,0,0)" fill-opacity="0.36"/>
<rect x="279.79" y="633.51" width="4.9" height="6.24" fill="rgb(0,0,255)" fill-opacity="0.36"/>
<rect x="284.69" y="633.51" width="4.9" height="6.24" fill="rgb(0,255,0)" fill-opacity="0.36"/>
<rect x="327.72" y="608.55" width="4.9" height="31.20" fill="rgb(255,0,0)" fill-opacity="0.36"/>
<rect x="332.62" y="589.83" width="4.9" height="49.92" fill="rgb(0,0,255)" fill-opacity="0.36"/>
<rect x="337.52" y="596.07" width="4.9" height="43.68" fill="rgb(0,255,0)" fill-opacity="0.36"/>
<rect x="345.33" y="589.83" width="4.9" height="49.92" fill="rgb(255,0,0)" fill-opacity="0.36"/>
<rect x="350.23" y="558.64" width="4.9" height="81.11" fill="rgb(0,0,255)" fill-opacity="0.36"/>
<rect x="355.13" y="571.12" width="4.9" height="68.63" fill="rgb(0,255,0)" fill-opacity="0.36"/>
<rect x="362.94" y="577.36" width="4.9" height="62.39" fill="rgb(255,0,0)" fill-opacity="0.36"/>
<rect x="367.84" y="514.96" width="4.9" height="124.79" fill="rgb(0,0,255)" fill-opacity="0.36"/>
<rect x="372.74" y="539.92" width="4.9" height="99.83" fill="rgb(0,255,0)" fill-opacity="0.36"/>
<rect x="398.16" y="571.12" width="4.9" height="68.63" fill="rgb(255,0,0)" fill-opacity="0.36"/>
<rect x="403.06" y="471.28" width="4.9" height="168.47" fill="rgb(0,0,255)" fill-opacity="0.36"/>
<rect x="407.96" y="521.20" width="4.9" height="118.55" fill="rgb(0,255,0)" fill-opacity="0.36"/>
<rect x="433.38" y="602.31" width="4.9" height="37.44" fill="rgb(255,0,0)" fill-opacity="0.36"/>
<rect x="438.28" y="496.24" width="4.9" height="143.51" fill="rgb(0,0,255)" fill-opacity="0.36"/>
<rect x="443.18" y="552.40" width="4.9" height="87.35" fill="rgb(0,255,0)" fill-opacity="0.36"/>
<rect x="450.99" y="621.03" width="4.9" height="18.72" fill="rgb(255,0,0)" fill-opacity="0.36"/>
<rect x="455.89" y="514.96" width="4.9" height="124.79" fill="rgb(0,0,255)" fill-opacity="0.36"/>
<rect x="460.79" y="571.12" width="4.9" height="68.63" fill="rgb(0,255,0)" fill-opacity="0.36"/>
<rect x="468.60" y="627.27" width="4.9" height="12.48" fill="rgb(255,0,0)" fill-opacity="0.36"/>
<rect x="473.50" y="539.92" width="4.9" height="99.83" fill="rgb(0,0,255)" fill-opacity="0.36"/>
<rect x="478.40" y="589.83" width="4.9" height="49.92" fill="rgb(0,255,0)" fill-opacity="0.36"/>
<rect x="486.21" y="633.51" width="4.9" height="6.24" fill="rgb(255,0,0)" fill-opacity="0.36"/>
<rect x="491.11" y="552.40" width="4.9" height="87.35" fill="rgb(0,0,255)" fill-opacity="0.36"/>
<rect x="496.01" y="596.07" width="4.9" height="43.68" fill="rgb(0,255,0)" fill-opacity="0.36"/>
<rect x="521.43" y="627.27" width="4.9" height="12.48" fill="rgb(255,0,0)" fill-opacity="0.36"/>
<rect x="526.33" y="558.64" width="4.9" height="81.11" fill="rgb(0,0,255)" fill-opacity="0.36"/>
<rect x="531.23" y="596.07" width="4.9" height="43.68" fill="rgb(0,255,0)" fill-opacity="0.36"/>
<rect x="556.65" y="627.27" width="4.9" height="12.48" fill="rgb(255,0,0)" fill-opacity="0.36"/>
<rect x="561.55" y="564.88" width="4.9" height="74.87" fill="rgb(0,0,255)" fill-opacity="0.36"/>
<rect x="566.45" y="596.07" width="4.9" height="43.68" fill="rgb(0,255,0)" fill-opacity="0.36"/>
<rect x="591.87" y="627.27" width="4.9" height="12.48" fill="rgb(255,0,0)" fill-opacity="0.36"/>
<rect x="596.77" y="558.64" width="4.9" height="81.11" fill="rgb(0,0,255)" fill-opacity="0.36"/>
<rect x="601.67" y="589.83" width="4.9" height="49.92" fill="rgb(0,255,0)" fill-opacity="0.36"/>
<rect x="609.48" y="627.27" width="4.9" height="12.48" fill="rgb(255,0,0)" fill-opacity="0.36"/>
<rect x="614.38" y="558.64" width="4.9" height="81.11" fill="rgb(0,0,255)" fill-opacity="0.36"/>
<rect x="619.28" y="589.83" width="4.9" height="49.92" fill="rgb(0,255,0)" fill-opacity="0.36"/>
<rect x="627.09" y="627.27" width="4.9" height="12.48" fill="rgb(255,0,0)" fill-opacity="0.36"/>
<rect x="631.99" y="558.64" width="4.9" height="81.11" fill="rgb(0,0,255)" fill-opacity="0.36"/>
<rect x="636.89" y="589.83" width="4.9" height="49.92" fill="rgb(0,255,0)" fill-opacity="0.36"/>
<rect x="662.31" y="621.03" width="4.9" height="18.72" fill="rgb(255,0,0)" fill-opacity="0.36"/>
<rect x="667.21" y="564.88" width="4.9" height="74.87" fill="rgb(0,0,255)" fill-opacity="0.36"/>
<rect x="672.11" y="596.07" width="4.9" height="43.68" fill="rgb(0,255,0)" fill-opacity="0.36"/>
<rect x="697.53" y="633.51" width="4.9" height="6.24" fill="rgb(255,0,0)" fill-opacity="0.36"/>
<rect x="702.43" y="564.88" width="4.9" height="74.87" fill="rgb(0,0,255)" fill-opacity="0.36"/>
<rect x="707.33" y="596.07" width="4.9" height="43.68" fill="rgb(0,255,0)" fill-opacity="0.36"/>
<rect x="720.04" y="577.36" width="4.9" height="62.39" fill="rgb(0,0,255)" fill-opacity="0.36"/>
<rect x="724.94" y="608.55" width="4.9" height="31.20" fill="rgb(0,255,0)" fill-opacity="0.36"/>
<rect x="750.36" y="596.07" width="4.9" height="43.68" fill="rgb(255,0,0)" fill-opacity="0.36"/>
<rect x="755.26" y="627.27" width="4.9" height="12.48" fill="rgb(0,0,255)" fill-opacity="0.36"/>
<rect x="760.16" y="627.27" width="4.9" height="12.48" fill="rgb(0,255,0)" fill-opacity="0.36"/>
<rect x="767.97" y="558.64" width="4.9" height="81.11" fill="rgb(255,0,0)" fill-opacity="0.36"/>
<rect x="772.87" y="614.79" width="4.9" height="24.96" fill="rgb(0,0,255)" fill-opacity="0.36"/>
<rect x="777.77" y="589.83" width="4.9" height="49.92" fill="rgb(0,255,0)" fill-opacity="0.36"/>
<rect x="785.58" y="508.72" width="4.9" height="131.03" fill="rgb(255,0,0)" fill-opacity="0.36"/>
<rect x="790.48" y="571.12" width="4.9" height="68.63" fill="rgb(0,0,255)" fill-opacity="0.36"/>
<rect x="795.38" y="558.64" width="4.9" height="81.11" fill="rgb(0,255,0)" fill-opacity="0.36"/>
<rect x="838.41" y="471.28" width="4.9" height="168.47" fill="rgb(255,0,0)" fill-opacity="0.36"/>
<rect x="843.31" y="521.20" width="4.9" height="118.55" fill="rgb(0,0,255)" fill-opacity="0.36"/>
<rect x="848.21" y="533.68" width="4.9" height="106.07" fill="rgb(0,255,0)" fill-opacity="0.36"/>
<rect x="856.02" y="514.96" width="4.9" height="124.79" fill="rgb(255,0,0)" fill-opacity="0.36"/>
<rect x="860.92" y="539.92" width="4.9" height="99.83" fill="rgb(0,0,255)" fill-opacity="0.36"/>
<rect x="865.82" y="552.40" width="4.9" height="87.35" fill="rgb(0,255,0)" fill-opacity="0.36"/>
<rect x="873.63" y="558.64" width="4.9" height="81.11" fill="rgb(255,0,0)" fill-opacity="0.36"/>
<rect x="878.53" y="571.12" width="4.9" height="68.63" fill="rgb(0,0,255)" fill-opacity="0.36"/>
<rect x="883.43" y="583.59" width="4.9" height="56.16" fill="rgb(0,255,0)" fill-opacity="0.36"/>
<rect x="891.24" y="602.31" width="4.9" height="37.44" fill="rgb(255,0,0)" fill-opacity="0.36"/>
<rect x="896.14" y="589.83" width="4.9" height="49.92" fill="rgb(0,0,255)" fill-opacity="0.36"/>
<rect x="901.04" y="602.31" width="4.9" height="37.44" fill="rgb(0,255,0)" fill-opacity="0.36"/>
<rect x="908.85" y="621.03" width="4.9" height="18.72" fill="rgb(255,0,0)" fill-opacity="0.36"/>
<rect x="913.75" y="614.79" width="4.9" height="24.96" fill="rgb(0,0,255)" fill-opacity="0.36"/>
<rect x="918.65" y="621.03" width="4.9" height="18.72" fill="rgb(0,255,0)" fill-opacity="0.36"/>
<rect x="926.46" y="633.51" width="4.9" height="6.24" fill="rgb(255,0,0)" fill-opacity="0.36"/>
<rect x="931.36" y="627.27" width="4.9" height="12.48" fill="rgb(0,0,255)" fill-opacity="0.36"/>
<rect x="936.26" y="633.51" width="4.9" height="6.24" fill="rgb(0,255,0)" fill-opacity="0.36"/>
<rect x="948.97" y="633.51" width="4.9" height="6.24" fill="rgb(0,0,255)" fill-opacity="0.36"/>
<rect x="984.19" y="633.51" width="4.9" height="6.24" fill="rgb(0,0,255)" fill-opacity="0.36"/>
<rect x="989.09" y="633.51" width="4.9" height="6.24" fill="rgb(0,255,0)" fill-opacity="0.36"/>
<rect x="1218.02" y="633.51" width="4.9" height="6.24" fill="rgb(0,255,0)" fill-opacity="0.36"/>
<rect x="1230.73" y="633.51" width="4.9" height="6.24" fill="rgb(0,0,255)" fill-opacity="0.36"/>
<rect x="1235.63" y="633.51" width="4.9" height="6.24" fill="rgb(0,255,0)" fill-opacity="0.36"/>
<rect x="1261.05" y="627.27" width="4.9" height="12.48" fill="rgb(255,0,0)" fill-opacity="0.36"/>
<rect x="1265.95" y="627.27" width="4.9" height="12.48" fill="rgb(0,0,255)" fill-opacity="0.36"/>
<rect x="1270.85" y="602.31" width="4.9" height="37.44" fill="rgb(0,255,0)" fill-opacity="0.36"/>
<rect x="1278.66" y="621.03" width="4.9" height="18.72" fill="rgb(255,0,0)" fill-opacity="0.36"/>
<rect x="1283.56" y="627.27" width="4.9" height="12.48" fill="rgb(0,0,255)" fill-opacity="0.36"/>
<rect x="1288.46" y="583.59" width="4.9" height="56.16" fill="rgb(0,255,0)" fill-opacity="0.36"/>
<rect x="1331.49" y="546.16" width="4.9" height="93.59" fill="rgb(255,0,0)" fill-opacity="0.36"/>
<rect x="1341.29" y="552.40" width="4.9" height="87.35" fill="rgb(0,255,0)" fill-opacity="0.36"/>
<rect x="1349.10" y="533.68" width="4.9" height="106.07" fill="rgb(255,0,0)" fill-opacity="0.36"/>
<rect x="1354.00" y="633.51" width="4.9" height="6.24" fill="rgb(0,0,255)" fill-opacity="0.36"/>
<rect x="1358.90" y="564.88" width="4.9" height="74.87" fill="rgb(0,255,0)" fill-opacity="0.36"/>
<rect x="1401.93" y="589.83" width="4.9" height="49.92" fill="rgb(255,0,0)" fill-opacity="0.36"/>
<rect x="1406.83" y="614.79" width="4.9" height="24.96" fill="rgb(0,0,255)" fill-opacity="0.36"/>
<rect x="1411.73" y="602.31" width="4.9" height="37.44" fill="rgb(0,255,0)" fill-opacity="0.36"/>
<rect x="1419.54" y="614.79" width="4.9" height="24.96" fill="rgb(255,0,0)" fill-opacity="0.36"/>
<rect x="1424.44" y="596.07" width="4.9" height="43.68" fill="rgb(0,0,255)" fill-opacity="0.36"/>
<rect x="1429.34" y="602.31" width="4.9" height="37.44" fill="rgb(0,255,0)" fill-opacity="0.36"/>
<rect x="1442.05" y="577.36" width="4.9" height="62.39" fill="rgb(0,0,255)" fill-opacity="0.36"/>
<rect x="1446.95" y="596.07" width="4.9" height="43.68" fill="rgb(0,255,0)" fill-opacity="0.36"/>
<rect x="1472.37" y="627.27" width="4.9" height="12.48" fill="rgb(255,0,0)" fill-opacity="0.36"/>
<rect x="1477.27" y="564.88" width="4.9" height="74.87" fill="rgb(0,0,255)" fill-opacity="0.36"/>
<rect x="1482.17" y="596.07" width="4.9" height="43.68" fill="rgb(0,255,0)" fill-opacity="0.36"/>
<rect x="1489.98" y="633.51" width="4.9" height="6.24" fill="rgb(255,0,0)" fill-opacity="0.36"/>
<rect x="1494.88" y="558.64" width="4.9" height="81.11" fill="rgb(0,0,255)" fill-opacity="0.36"/>
<rect x="1499.78" y="589.83" width="4.9" height="49.92" fill="rgb(0,255,0)" fill-opacity="0.36"/>
<rect x="1547.71" y="521.20" width="4.9" height="118.55" fill="rgb(0,0,255)" fill-opacity="0.36"/>
<rect x="1552.61" y="589.83" width="4.9" height="49.92" fill="rgb(0,255,0)" fill-opacity="0.36"/>
<rect x="1565.32" y="496.24" width="4.9" height="143.51" fill="rgb(0,0,255)" fill-opacity="0.36"/>
<rect x="1570.22" y="571.12" width="4.9" height="68.63" fill="rgb(0,255,0)" fill-opacity="0.36"/>
<rect x="1595.64" y="621.03" width="4.9" height="18.72" fill="rgb(255,0,0)" fill-opacity="0.36"/>
<rect x="1600.54" y="471.28" width="4.9" height="168.47" fill="rgb(0,0,255)" fill-opacity="0.36"/>
<rect x="1605.44" y="539.92" width="4.9" height="99.83" fill="rgb(0,255,0)" fill-opacity="0.36"/>
<rect x="1630.86" y="614.79" width="4.9" height="24.96" fill="rgb(255,0,0)" fill-opacity="0.36"/>
<rect x="1635.76" y="514.96" width="4.9" height="124.79" fill="rgb(0,0,255)" fill-opacity="0.36"/>
<rect x="1640.66" y="552.40" width="4.9" height="87.35" fill="rgb(0,255,0)" fill-opacity="0.36"/>
<rect x="1648.47" y="621.03" width="4.9" height="18.72" fill="rgb(255,0,0)" fill-opacity="0.36"/>
<rect x="1653.37" y="546.16" width="4.9" height="93.59" fill="rgb(0,0,255)" fill-opacity="0.36"/>
<rect x="1658.27" y="571.12" width="4.9" height="68.63" fill="rgb(0,255,0)" fill-opacity="0.36"/>
<rect x="1666.08" y="627.27" width="4.9" height="12.48" fill="rgb(255,0,0)" fill-opacity="0.36"/>
<rect x="1670.98" y="583.59" width="4.9" height="56.16" fill="rgb(0,0,255)" fill-opacity="0.36"/>
<rect x="1675.88" y="596.07" width="4.9" height="43.68" fill="rgb(0,255,0)" fill-opacity="0.36"/>
<rect x="1706.20" y="621.03" width="4.9" height="18.72" fill="rgb(0,0,255)" fill-opacity="0.36"/>
<rect x="1711.10" y="627.27" width="4.9" height="12.48" fill="rgb(0,255,0)" fill-opacity="0.36"/>
<rect x="1723.81" y="633.51" width="4.9" height="6.24" fill="rgb(0,0,255)" fill-opacity="0.36"/>
<rect x="1728.71" y="633.51" width="4.9" height="6.24" fill="rgb(0,255,0)" fill-opacity="0.36"/>
</g>
<g stroke="#000" fill="none">
<line x1="150.10000000000002" y1="15.8" x2="1892.6" y2="15.8" stroke-width="2"/>
<line x1="150.10000000000002" y1="639.75" x2="1892.6" y2="639.75" stroke-width="2"/>
<line x1="150.8" y1="15.8" x2="150.8" y2="639.75" stroke-width="1.5" stroke="#333"/>
<line x1="1876.0" y1="15.8" x2="1876.0" y2="639.75" stroke-width="2"/>
<line x1="142.2" y1="15.80" x2="150.8" y2="15.80" stroke-width="1.7" stroke="#262626"/>
<line x1="133.6" y1="67.80" x2="150.8" y2="67.80" stroke-width="1.7" stroke="#262626"/>
<line x1="142.2" y1="119.79" x2="150.8" y2="119.79" stroke-width="1.7" stroke="#262626"/>
<line x1="133.6" y1="171.79" x2="150.8" y2="171.79" stroke-width="1.7" stroke="#262626"/>
<line x1="142.2" y1="223.78" x2="150.8" y2="223.78" stroke-width="1.7" stroke="#262626"/>
<line x1="133.6" y1="275.78" x2="150.8" y2="275.78" stroke-width="1.7" stroke="#262626"/>
<line x1="142.2" y1="327.78" x2="150.8" y2="327.78" stroke-width="1.7" stroke="#262626"/>
<line x1="133.6" y1="379.77" x2="150.8" y2="379.77" stroke-width="1.7" stroke="#262626"/>
<line x1="142.2" y1="431.77" x2="150.8" y2="431.77" stroke-width="1.7" stroke="#262626"/>
<line x1="133.6" y1="483.76" x2="150.8" y2="483.76" stroke-width="1.7" stroke="#262626"/>
<line x1="142.2" y1="535.76" x2="150.8" y2="535.76" stroke-width="1.7" stroke="#262626"/>
<line x1="133.6" y1="587.75" x2="150.8" y2="587.75" stroke-width="1.7" stroke="#262626"/>
<line x1="142.2" y1="639.75" x2="150.8" y2="639.75" stroke-width="1.7" stroke="#262626"/>
<line x1="1876.0" y1="577.36" x2="1883.8" y2="577.36" stroke-width="1.8"/>
<line x1="1876.0" y1="514.96" x2="1892.3" y2="514.96" stroke-width="1.8"/>
<line x1="1876.0" y1="452.56" x2="1883.8" y2="452.56" stroke-width="1.8"/>
<line x1="1876.0" y1="390.17" x2="1892.3" y2="390.17" stroke-width="1.8"/>
<line x1="1876.0" y1="327.77" x2="1883.8" y2="327.77" stroke-width="1.8"/>
<line x1="1876.0" y1="265.38" x2="1892.3" y2="265.38" stroke-width="1.8"/>
<line x1="1876.0" y1="202.99" x2="1883.8" y2="202.99" stroke-width="1.8"/>
<line x1="1876.0" y1="140.59" x2="1892.3" y2="140.59" stroke-width="1.8"/>
<line x1="1876.0" y1="78.19" x2="1883.8" y2="78.19" stroke-width="1.8"/>
<line x1="194.19" y1="639.75" x2="194.19" y2="647.75" stroke-width="1.7"/>
<line x1="247.02" y1="639.75" x2="247.02" y2="656.75" stroke-width="1.7"/>
<line x1="299.85" y1="639.75" x2="299.85" y2="647.75" stroke-width="1.7"/>
<line x1="352.68" y1="639.75" x2="352.68" y2="656.75" stroke-width="1.7"/>
<line x1="405.51" y1="639.75" x2="405.51" y2="647.75" stroke-width="1.7"/>
<line x1="458.34" y1="639.75" x2="458.34" y2="656.75" stroke-width="1.7"/>
<line x1="511.17" y1="639.75" x2="511.17" y2="647.75" stroke-width="1.7"/>
<line x1="564.00" y1="639.75" x2="564.00" y2="656.75" stroke-width="1.7"/>
<line x1="616.83" y1="639.75" x2="616.83" y2="647.75" stroke-width="1.7"/>
<line x1="669.66" y1="639.75" x2="669.66" y2="656.75" stroke-width="1.7"/>
<line x1="722.49" y1="639.75" x2="722.49" y2="647.75" stroke-width="1.7"/>
<line x1="775.32" y1="639.75" x2="775.32" y2="656.75" stroke-width="1.7"/>
<line x1="828.15" y1="639.75" x2="828.15" y2="647.75" stroke-width="1.7"/>
<line x1="880.98" y1="639.75" x2="880.98" y2="656.75" stroke-width="1.7"/>
<line x1="933.81" y1="639.75" x2="933.81" y2="647.75" stroke-width="1.7"/>
<line x1="986.64" y1="639.75" x2="986.64" y2="656.75" stroke-width="1.7"/>
<line x1="1039.47" y1="639.75" x2="1039.47" y2="647.75" stroke-width="1.7"/>
<line x1="1092.30" y1="639.75" x2="1092.30" y2="656.75" stroke-width="1.7"/>
<line x1="1145.13" y1="639.75" x2="1145.13" y2="647.75" stroke-width="1.7"/>
<line x1="1197.96" y1="639.75" x2="1197.96" y2="656.75" stroke-width="1.7"/>
<line x1="1250.79" y1="639.75" x2="1250.79" y2="647.75" stroke-width="1.7"/>
<line x1="1303.62" y1="639.75" x2="1303.62" y2="656.75" stroke-width="1.7"/>
<line x1="1356.45" y1="639.75" x2="1356.45" y2="647.75" stroke-width="1.7"/>
<line x1="1409.28" y1="639.75" x2="1409.28" y2="656.75" stroke-width="1.7"/>
<line x1="1462.11" y1="639.75" x2="1462.11" y2="647.75" stroke-width="1.7"/>
<line x1="1514.94" y1="639.75" x2="1514.94" y2="656.75" stroke-width="1.7"/>
<line x1="1567.77" y1="639.75" x2="1567.77" y2="647.75" stroke-width="1.7"/>
<line x1="1620.60" y1="639.75" x2="1620.60" y2="656.75" stroke-width="1.7"/>
<line x1="1673.43" y1="639.75" x2="1673.43" y2="647.75" stroke-width="1.7"/>
<line x1="1726.26" y1="639.75" x2="1726.26" y2="656.75" stroke-width="1.7"/>
<line x1="1779.09" y1="639.75" x2="1779.09" y2="647.75" stroke-width="1.7"/>
<line x1="1831.92" y1="639.75" x2="1831.92" y2="656.75" stroke-width="1.7"/>
</g>
<g font-size="36.65" fill="#000" stroke="#000" stroke-width="0.4">
<text transform="translate(121.5,78.60) scale(1,1.04)" text-anchor="end">0</text>
<text transform="translate(121.5,182.59) scale(1,1.04)" text-anchor="end">500</text>
<text transform="translate(121.5,286.58) scale(1,1.04)" text-anchor="end">1000</text>
<text transform="translate(121.5,390.57) scale(1,1.04)" text-anchor="end">1500</text>
<text transform="translate(121.5,494.56) scale(1,1.04)" text-anchor="end">2000</text>
<text transform="translate(121.5,598.55) scale(1,1.04)" text-anchor="end">2500</text>
<text transform="translate(1905,650.85) scale(1,1.04)">0</text>
<text transform="translate(1905,526.06) scale(1,1.04)">20</text>
<text transform="translate(1905,401.27) scale(1,1.04)">40</text>
<text transform="translate(1905,276.48) scale(1,1.04)">60</text>
<text transform="translate(1905,151.69) scale(1,1.04)">80</text>
<text transform="translate(1905,26.90) scale(1,1.04)">100</text>
<text transform="translate(1013.6,745.7) scale(1,1.04)" text-anchor="middle">Observation point number</text>
<text transform="translate(28.7,328.1) rotate(-90) scale(1,1.04)" text-anchor="middle">Subsidence value/mm</text>
<text transform="translate(2002.5,327.3) rotate(-90) scale(1,1.04)" text-anchor="middle">Absolute error/mm</text>
</g>
<g font-size="28.1" fill="#000" stroke="#000" stroke-width="0.3">
<text transform="translate(268.02,672.5) rotate(-45)" text-anchor="end">E6</text>
<text transform="translate(373.68,672.5) rotate(-45)" text-anchor="end">E12</text>
<text transform="translate(479.34,672.5) rotate(-45)" text-anchor="end">E18</text>
<text transform="translate(585.00,672.5) rotate(-45)" text-anchor="end">E24</text>
<text transform="translate(690.66,672.5) rotate(-45)" text-anchor="end">E30</text>
<text transform="translate(796.32,672.5) rotate(-45)" text-anchor="end">E36</text>
<text transform="translate(901.98,672.5) rotate(-45)" text-anchor="end">E42</text>
<text transform="translate(1007.64,672.5) rotate(-45)" text-anchor="end">E48</text>
<text transform="translate(1113.30,672.5) rotate(-45)" text-anchor="end">E54</text>
<text transform="translate(1218.96,672.5) rotate(-45)" text-anchor="end">S6</text>
<text transform="translate(1324.62,672.5) rotate(-45)" text-anchor="end">S12</text>
<text transform="translate(1430.28,672.5) rotate(-45)" text-anchor="end">S18</text>
<text transform="translate(1535.94,672.5) rotate(-45)" text-anchor="end">S24</text>
<text transform="translate(1641.60,672.5) rotate(-45)" text-anchor="end">S30</text>
<text transform="translate(1747.26,672.5) rotate(-45)" text-anchor="end">S36</text>
<text transform="translate(1852.92,672.5) rotate(-45)" text-anchor="end">S42</text>
</g>
<g font-size="28.1" fill="#000" stroke="#000" stroke-width="0.3">
<line x1="404.3" y1="48.5" x2="468.8" y2="48.5" stroke="#4d4d4d" stroke-width="1.4"/>
<g stroke="none">
<rect x="431.35" y="43.25" width="10.5" height="10.5" fill="#4d4d4d"/>
</g>
<text x="475.3" y="57.4">Measured value</text>
<line x1="404.3" y1="83.5" x2="468.8" y2="83.5" stroke="#ee3a3a" stroke-width="1.4"/>
<g stroke="none">
<circle cx="436.60" cy="83.50" r="5.7" fill="#ee3a3a"/>
</g>
<text x="475.3" y="92.4">DE fitting value</text>
<line x1="404.3" y1="118.5" x2="468.8" y2="118.5" stroke="#1a62e0" stroke-width="1.4"/>
<g stroke="none">
<path d="M430.10 122.23L443.10 122.23L436.60 111.03Z" fill="#1a62e0"/>
</g>
<text x="475.3" y="127.4">Huber-DE fitting value</text>
<line x1="404.3" y1="153.3" x2="468.8" y2="153.3" stroke="#00ff00" stroke-width="1.4"/>
<g stroke="none">
<path d="M430.10 149.57L443.10 149.57L436.60 160.77Z" fill="#00ff00"/>
</g>
<text x="475.3" y="162.2">RANSAC-DE fitting value</text>
<rect x="430.2" y="181.9" width="61.8" height="29.7" fill="rgb(255,0,0)" fill-opacity="0.36" stroke="#000" stroke-opacity="0.22" stroke-width="0.8"/>
<text x="499.8" y="205.8">DE absolute error</text>
<rect x="430.2" y="217.0" width="61.8" height="29.7" fill="rgb(0,0,255)" fill-opacity="0.36" stroke="#000" stroke-opacity="0.22" stroke-width="0.8"/>
<text x="499.8" y="240.9">Huber-DE absolute error</text>
<rect x="430.2" y="251.9" width="61.8" height="29.7" fill="rgb(0,255,0)" fill-opacity="0.36" stroke="#000" stroke-opacity="0.22" stroke-width="0.8"/>
<text x="499.8" y="275.9">RANSAC-DE absolute error</text>
</g>
</svg>
</body></html>
